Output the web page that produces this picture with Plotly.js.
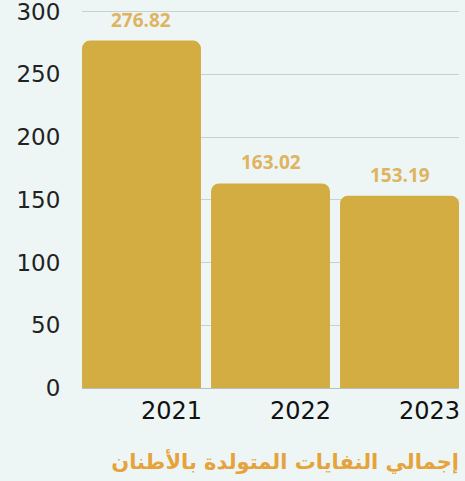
<!DOCTYPE html>
<html>
<head>
<meta charset="utf-8">
<script src="https://cdn.plot.ly/plotly-3.0.1.min.js"></script>
<style>
  html, body { margin: 0; padding: 0; background: #eef6f5; }
  #chart { width: 465px; height: 481px; }
</style>
</head>
<body>
<div id="chart"></div>
<script>
var years = ['2021', '2022', '2023'];
var tonnes = [276.82, 163.02, 153.19];
var yTicks = [0, 50, 100, 150, 200, 250, 300];

var trace = {
    type: 'bar',
    x: years,
    y: tonnes,
    marker: { color: '#d3ac42', line: { width: 0 } },
    hoverinfo: 'none'
};

// value labels above each bar (category index as x)
var labels = years.map(function (yr, i) {
    return {
        x: i,
        y: tonnes[i],
        text: '<b>' + tonnes[i].toFixed(2) + '</b>',
        showarrow: false,
        yanchor: 'bottom',
        yshift: 6,
        font: { family: 'Open Sans', size: 19, color: '#dfb460' }
    };
});

var layout = {
    width: 465,
    height: 481,
    margin: { l: 82, r: 6, t: 9, b: 93 },
    paper_bgcolor: '#eef6f5',
    plot_bgcolor: '#eef6f5',
    bargap: 0.078,
    barcornerradius: 8,
    showlegend: false,
    title: {
        text: '<b>إجمالي النفايات المتولدة بالأطنان</b>',
        font: { family: 'DejaVu Sans', size: 21, color: '#e6a33c' },
        xref: 'paper',
        x: 1,
        xanchor: 'right',
        yref: 'container',
        y: 0.04,
        yanchor: 'middle'
    },
    xaxis: {
        type: 'category',
        range: [-0.461, 2.461],
        tickfont: { family: 'DejaVu Sans', size: 24, color: '#111' },
        ticks: '',
        ticklabelshift: 30,
        ticklabelstandoff: 6,
        showline: false,
        fixedrange: true
    },
    yaxis: {
        range: [0, 302],
        tickmode: 'array',
        tickvals: yTicks,
        tickfont: { family: 'DejaVu Sans', size: 23, color: '#222' },
        ticklabeloverflow: 'allow',
        gridcolor: '#c9d0d0',
        gridwidth: 1,
        zeroline: true,
        zerolinecolor: '#b9c0c0',
        zerolinewidth: 1,
        ticks: 'outside',
        ticklen: 16,
        tickcolor: 'rgba(0,0,0,0)',
        fixedrange: true
    },
    annotations: labels
};

Plotly.newPlot('chart', [trace], layout, { displayModeBar: false, staticPlot: true });
</script>
</body>
</html>
